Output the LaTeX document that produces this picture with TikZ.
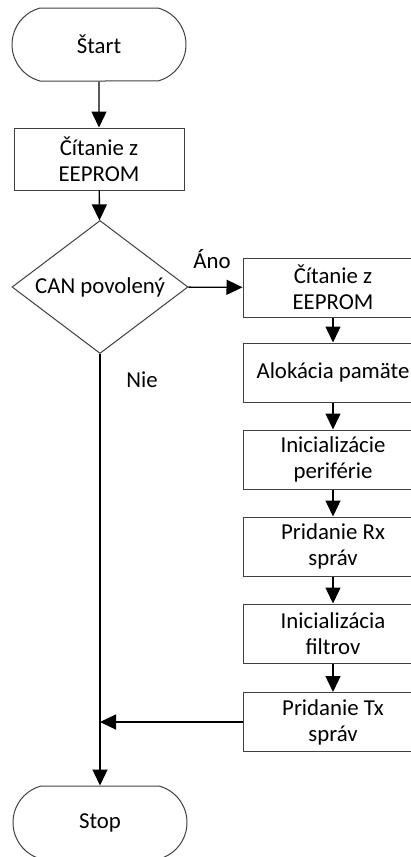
\documentclass[tikz,border=0pt]{standalone}
\usepackage{fontspec}
\setmainfont{Carlito}
\usetikzlibrary{shapes.misc,shapes.geometric,arrows.meta}
\begin{document}
\begin{tikzpicture}[x=0.5pt,y=-0.5pt,
  font=\fontsize{11.4}{13}\selectfont,
  lbox/.style={draw=black!75, line width=0.5pt, minimum width=85pt, minimum height=31pt, inner sep=0pt, align=center},
  rbox/.style={draw=black!75, line width=0.5pt, minimum width=90pt, minimum height=29.5pt, inner sep=0pt, align=center},
  term/.style={draw=black!75, line width=0.5pt, rounded rectangle, rounded rectangle arc length=150, minimum width=87pt, minimum height=36.5pt, inner sep=0pt},
  dec/.style={draw=black!75, line width=0.5pt, diamond, aspect=1.32, minimum width=88pt, minimum height=66.5pt, inner sep=0pt},
  arr/.style={-{Triangle[length=8pt,width=7.5pt]}, line width=0.7pt},
  lab/.style={inner sep=0pt}]
\useasboundingbox (0,0) rectangle (411,857);
\clip (0,0) rectangle (411,857);

\node[term] (start) at (99,44.5) {Štart};
\node[lbox] (read1) at (99,159) {Čítanie z\\EEPROM};
\node[dec] (can) at (100,287) {CAN povolený};
\node[rbox] (r1) at (333,287.5) {Čítanie z\\EEPROM};
\node[rbox] (r2) at (333,372.5) {Alokácia pamäte};
\node[rbox] (r3) at (333,459.5) {Inicializácie\\periférie};
\node[rbox] (r4) at (333,546.5) {Pridanie Rx\\správ};
\node[rbox] (r5) at (333,633.5) {Inicializácia\\filtrov};
\node[rbox] (r6) at (333,722) {Pridanie Tx\\správ};
\node[term] (stop) at (100,822.5) {Stop};

\node[lab] (ano) at (212,259) {Áno};
\node[lab] (nie) at (142,380) {Nie};

\coordinate (join) at (100,722);

\draw[arr] (start) -- (read1);
\draw[arr] (read1) -- (can);
\draw[arr] (can) -- (r1);
\draw[arr] (r1) -- (r2);
\draw[arr] (r2) -- (r3);
\draw[arr] (r3) -- (r4);
\draw[arr] (r4) -- (r5);
\draw[arr] (r5) -- (r6);
\draw[arr] (can.south) -- (stop.north);
\draw[arr] (r6.west) -- (join);
\end{tikzpicture}
\end{document}
